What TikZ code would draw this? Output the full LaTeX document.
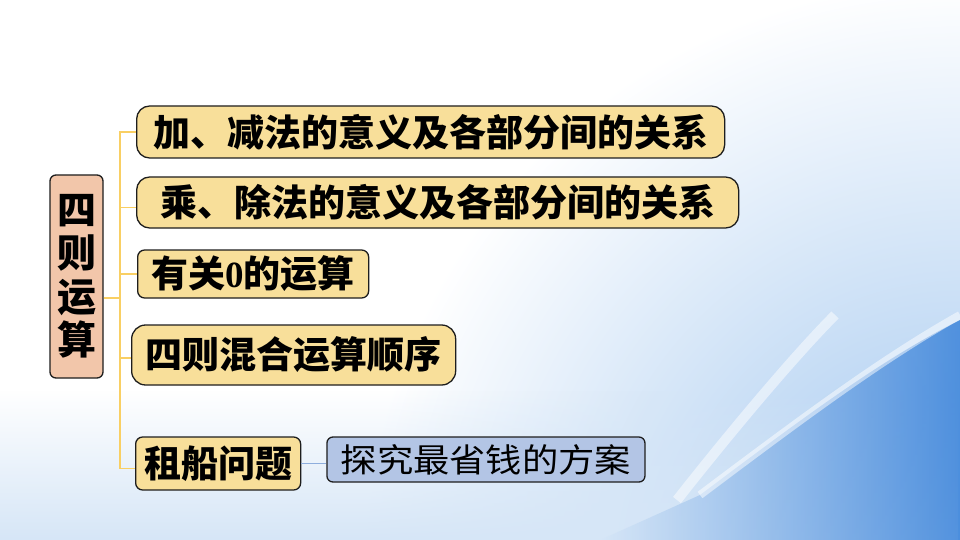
\documentclass[tikz,border=0pt]{standalone}
\usepackage{fontspec}
\usepackage{tikz}
\usetikzlibrary{positioning, calc, fadings}
\newfontfamily\heiti{Noto Sans CJK SC}
\newfontfamily\kaiti[FakeStretch=1.1]{Noto Sans CJK SC}
\newfontfamily\numfont{Liberation Serif}
\definecolor{mmyellow}{HTML}{F8DF9A}
\definecolor{mmpeach}{HTML}{F2C6AA}
\definecolor{mmblue}{HTML}{B3C5E5}
\definecolor{mmgold}{HTML}{F9CF63}
\definecolor{mmlink}{HTML}{8EAEDD}
\definecolor{mmink}{HTML}{1E1E1E}
\definecolor{skylight}{HTML}{D6E6F7}
\definecolor{skymid}{HTML}{9DC4EE}
\definecolor{skydeep}{HTML}{3C84DA}

\begin{document}
\begin{tikzpicture}[
  x=1pt, y=-1pt,
  topicbox/.style={rectangle, rounded corners=#1, draw=mmink, line width=1.3pt, fill=mmyellow, inner sep=0pt, font=\heiti\bfseries\fontsize{37}{40}\selectfont},
  branch/.style={line width=1.4pt, color=mmgold}
]
  % Background
  \useasboundingbox (0,0) rectangle (960,540);
  \fill[white] (0,0) rectangle (960,540);
  \begin{scope}
    \clip (0,0) rectangle (960,540);
    \shade[inner color=skymid, outer color=white] (960,580) circle (600);
  \end{scope}
  \fill[skylight, path fading=north] (0,390) rectangle (960,540);
  \shade[left color=skylight, right color=skydeep, opacity=0.85] (600,540) -- (700,495) .. controls (800,420) and (880,360) .. (960,320) -- (960,540) -- cycle;
  \draw[white, line width=10pt, opacity=0.5] (677,500) .. controls (740,420) and (800,350) .. (835,315);
  \draw[white, line width=8pt, opacity=0.5] (700,495) .. controls (800,420) and (880,360) .. (960,315);

  % Root
  \node[topicbox=6pt, fill=mmpeach, minimum width=53pt, minimum height=203pt, align=center, font=\heiti\bfseries\fontsize{39}{43.5}\selectfont] (root) at (76.5,276.5) {四\\则\\运\\算};

  % Topics
  \node[topicbox=13pt, minimum width=588pt, minimum height=52pt, anchor=west] (addsub) at (136,132) {加、减法的意义及各部分间的关系};
  \node[topicbox=13pt, minimum width=602pt, minimum height=51pt, anchor=west] (muldiv) at (136,202.5) {乘、除法的意义及各部分间的关系};
  \node[topicbox=7pt, minimum width=231pt, minimum height=48pt, anchor=west] (zero) at (137,274) {有关{\numfont\bfseries 0}的运算};
  \node[topicbox=14pt, minimum width=324pt, minimum height=60pt, anchor=west] (order) at (131,355) {四则混合运算顺序};
  \node[topicbox=7pt, minimum width=165pt, minimum height=53pt, anchor=west] (boat) at (135,463.5) {租船问题};

  % Detail
  \node[topicbox=6pt, fill=mmblue, minimum width=318pt, minimum height=45pt, right=25pt of boat, yshift=4pt, font=\kaiti\fontsize{33}{36}\selectfont] (cheap) {探究最省钱的方案};

  % Connectors
  \coordinate (hub) at (120,298);
  \draw[branch] (root.east |- hub) -- (hub);
  \draw[branch] (hub) |- (addsub.west);
  \draw[branch] (hub) |- ([yshift=-5pt]muldiv.west);
  \draw[branch] (hub) |- (zero.west);
  \draw[branch] (hub) |- ([yshift=-3pt]order.west);
  \draw[branch] (hub) |- ([yshift=-5pt]boat.west);
  \draw[line width=1.4pt, color=mmlink] (boat.east) -- (boat.east -| cheap.west);
\end{tikzpicture}
\end{document}
